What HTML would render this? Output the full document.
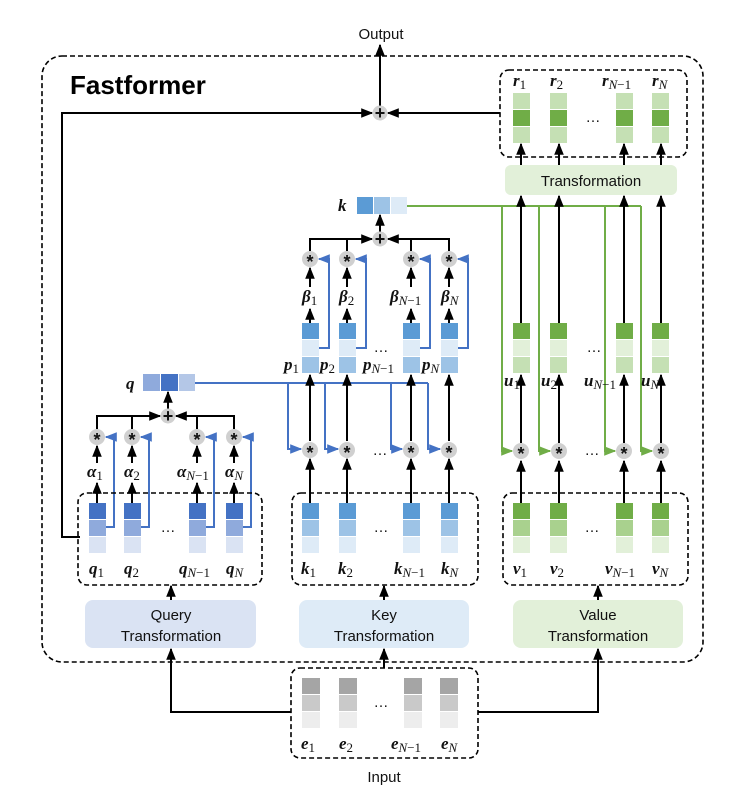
<!DOCTYPE html>
<html><head><meta charset="utf-8">
<style>
html,body{margin:0;padding:0;background:#fff;}
svg{display:block;}
.m{font-family:"Liberation Serif",serif;font-weight:bold;font-style:italic;font-size:17px;fill:#111;}
.s{font-size:13px;font-style:italic;font-weight:normal;}
.sn{font-size:13px;font-style:normal;font-weight:normal;}
.t{font-family:"Liberation Sans",sans-serif;font-size:15px;fill:#111;}
.ast{font-family:"Liberation Sans",sans-serif;font-weight:bold;font-size:18px;fill:#111;}
</style></head><body>
<svg width="746" height="799" viewBox="0 0 746 799" xmlns="http://www.w3.org/2000/svg">
<defs>
<marker id="ab" viewBox="0 0 10 10" refX="9" refY="5" markerWidth="6" markerHeight="6" orient="auto"><path d="M0,1 L10,5 L0,9 z" fill="#000"/></marker>
<marker id="au" viewBox="0 0 10 10" refX="9" refY="5" markerWidth="6" markerHeight="6" orient="auto"><path d="M0,1 L10,5 L0,9 z" fill="#4472C4"/></marker>
<marker id="ag" viewBox="0 0 10 10" refX="9" refY="5" markerWidth="6" markerHeight="6" orient="auto"><path d="M0,1 L10,5 L0,9 z" fill="#70AD47"/></marker>
</defs>

<rect x="42" y="56" width="661" height="606" rx="20" fill="none" stroke="#000" stroke-width="1.6" stroke-dasharray="5,3"/>
<text x="70" y="94" font-family="Liberation Sans,sans-serif" font-weight="bold" font-size="26" fill="#000">Fastformer</text>
<text class="t" x="381" y="39" text-anchor="middle" font-size="16">Output</text>
<text class="t" x="384" y="782" text-anchor="middle" font-size="17">Input</text>

<g stroke="#000" stroke-width="2" fill="none">
<line x1="380" y1="106" x2="380" y2="45" marker-end="url(#ab)"/>
<polyline points="80,537 62,537 62,113 372,113" marker-end="url(#ab)"/>
<line x1="500" y1="113" x2="388" y2="113" marker-end="url(#ab)"/>
</g>
<circle cx="380" cy="113" r="7.5" fill="#d0d0d0"/>
<text x="380" y="119" text-anchor="middle" class="ast" font-size="16">+</text>

<rect x="500" y="70" width="187" height="87" rx="9" fill="none" stroke="#000" stroke-width="1.6" stroke-dasharray="5,3"/>
<g>
<rect x="513" y="93" width="17" height="16" fill="#C5E0B4"/><rect x="513" y="110" width="17" height="16" fill="#70AD47"/><rect x="513" y="127" width="17" height="16" fill="#C5E0B4"/>
<rect x="550" y="93" width="17" height="16" fill="#C5E0B4"/><rect x="550" y="110" width="17" height="16" fill="#70AD47"/><rect x="550" y="127" width="17" height="16" fill="#C5E0B4"/>
<rect x="616" y="93" width="17" height="16" fill="#C5E0B4"/><rect x="616" y="110" width="17" height="16" fill="#70AD47"/><rect x="616" y="127" width="17" height="16" fill="#C5E0B4"/>
<rect x="652" y="93" width="17" height="16" fill="#C5E0B4"/><rect x="652" y="110" width="17" height="16" fill="#70AD47"/><rect x="652" y="127" width="17" height="16" fill="#C5E0B4"/>
</g>
<text class="t" x="593" y="122" text-anchor="middle">…</text>
<text class="m" x="513" y="86">r<tspan class="sn" dy="3">1</tspan></text>
<text class="m" x="550" y="86">r<tspan class="sn" dy="3">2</tspan></text>
<text class="m" x="602" y="86">r<tspan class="s" dy="3">N</tspan><tspan class="sn">−1</tspan></text>
<text class="m" x="652" y="86">r<tspan class="s" dy="3">N</tspan></text>

<rect x="505" y="165" width="172" height="30" rx="6" fill="#E2F0D9"/>
<text class="t" x="591" y="186" text-anchor="middle">Transformation</text>

<text class="m" x="338" y="211">k</text>
<rect x="357" y="197" width="16" height="17" fill="#5B9BD5"/><rect x="374" y="197" width="16" height="17" fill="#9DC3E6"/><rect x="391" y="197" width="16" height="17" fill="#DEEBF7"/>

<g stroke="#70AD47" stroke-width="2" fill="none">
<line x1="407" y1="206" x2="641" y2="206"/>
<polyline points="502,206 502,451 512,451" marker-end="url(#ag)"/>
<polyline points="539,206 539,451 550,451" marker-end="url(#ag)"/>
<polyline points="605,206 605,451 615,451" marker-end="url(#ag)"/>
<polyline points="641,206 641,451 652,451" marker-end="url(#ag)"/>
</g>

<g stroke="#000" stroke-width="2" fill="none">
<line x1="521" y1="503" x2="521" y2="461" marker-end="url(#ab)"/>
<line x1="559" y1="503" x2="559" y2="461" marker-end="url(#ab)"/>
<line x1="624" y1="503" x2="624" y2="461" marker-end="url(#ab)"/>
<line x1="661" y1="503" x2="661" y2="461" marker-end="url(#ab)"/>
<line x1="521" y1="443" x2="521" y2="375" marker-end="url(#ab)"/>
<line x1="559" y1="443" x2="559" y2="375" marker-end="url(#ab)"/>
<line x1="624" y1="443" x2="624" y2="375" marker-end="url(#ab)"/>
<line x1="661" y1="443" x2="661" y2="375" marker-end="url(#ab)"/>
<line x1="521" y1="323" x2="521" y2="196" marker-end="url(#ab)"/>
<line x1="559" y1="323" x2="559" y2="196" marker-end="url(#ab)"/>
<line x1="624" y1="323" x2="624" y2="196" marker-end="url(#ab)"/>
<line x1="661" y1="323" x2="661" y2="196" marker-end="url(#ab)"/>
<line x1="521" y1="165" x2="521" y2="144" marker-end="url(#ab)"/>
<line x1="559" y1="165" x2="559" y2="144" marker-end="url(#ab)"/>
<line x1="624" y1="165" x2="624" y2="144" marker-end="url(#ab)"/>
<line x1="661" y1="165" x2="661" y2="144" marker-end="url(#ab)"/>
</g>
<g fill="#d0d0d0"><circle cx="521" cy="451" r="8"/><circle cx="559" cy="451" r="8"/><circle cx="624" cy="451" r="8"/><circle cx="661" cy="451" r="8"/></g>
<g class="ast" text-anchor="middle"><text x="521" y="460">*</text><text x="559" y="460">*</text><text x="624" y="460">*</text><text x="661" y="460">*</text></g>
<text class="t" x="592" y="455" text-anchor="middle">…</text>

<g>
<rect x="513" y="323" width="17" height="16" fill="#70AD47"/><rect x="513" y="340" width="17" height="16" fill="#E2F0D9"/><rect x="513" y="357" width="17" height="16" fill="#C5E0B4"/>
<rect x="550" y="323" width="17" height="16" fill="#70AD47"/><rect x="550" y="340" width="17" height="16" fill="#E2F0D9"/><rect x="550" y="357" width="17" height="16" fill="#C5E0B4"/>
<rect x="616" y="323" width="17" height="16" fill="#70AD47"/><rect x="616" y="340" width="17" height="16" fill="#E2F0D9"/><rect x="616" y="357" width="17" height="16" fill="#C5E0B4"/>
<rect x="652" y="323" width="17" height="16" fill="#70AD47"/><rect x="652" y="340" width="17" height="16" fill="#E2F0D9"/><rect x="652" y="357" width="17" height="16" fill="#C5E0B4"/>
</g>
<text class="t" x="594" y="352" text-anchor="middle">…</text>
<text class="m" x="504" y="386">u<tspan class="sn" dy="3">1</tspan></text>
<text class="m" x="541" y="386">u<tspan class="sn" dy="3">2</tspan></text>
<text class="m" x="584" y="386">u<tspan class="s" dy="3">N</tspan><tspan class="sn">−1</tspan></text>
<text class="m" x="641" y="386">u<tspan class="s" dy="3">N</tspan></text>

<rect x="503" y="493" width="185" height="92" rx="9" fill="none" stroke="#000" stroke-width="1.6" stroke-dasharray="5,3"/>
<g>
<rect x="513" y="503" width="17" height="16" fill="#70AD47"/><rect x="513" y="520" width="17" height="16" fill="#A9D18E"/><rect x="513" y="537" width="17" height="16" fill="#E2F0D9"/>
<rect x="550" y="503" width="17" height="16" fill="#70AD47"/><rect x="550" y="520" width="17" height="16" fill="#A9D18E"/><rect x="550" y="537" width="17" height="16" fill="#E2F0D9"/>
<rect x="616" y="503" width="17" height="16" fill="#70AD47"/><rect x="616" y="520" width="17" height="16" fill="#A9D18E"/><rect x="616" y="537" width="17" height="16" fill="#E2F0D9"/>
<rect x="652" y="503" width="17" height="16" fill="#70AD47"/><rect x="652" y="520" width="17" height="16" fill="#A9D18E"/><rect x="652" y="537" width="17" height="16" fill="#E2F0D9"/>
</g>
<text class="t" x="592" y="532" text-anchor="middle">…</text>
<text class="m" x="513" y="574">v<tspan class="sn" dy="3">1</tspan></text>
<text class="m" x="550" y="574">v<tspan class="sn" dy="3">2</tspan></text>
<text class="m" x="605" y="574">v<tspan class="s" dy="3">N</tspan><tspan class="sn">−1</tspan></text>
<text class="m" x="652" y="574">v<tspan class="s" dy="3">N</tspan></text>

<g stroke="#4472C4" stroke-width="2" fill="none">
<line x1="195" y1="383" x2="428" y2="383"/>
<polyline points="288,383 288,449 301,449" marker-end="url(#au)"/>
<polyline points="325,383 325,449 338,449" marker-end="url(#au)"/>
<polyline points="391,383 391,449 402,449" marker-end="url(#au)"/>
<polyline points="428,383 428,449 440,449" marker-end="url(#au)"/>
<polyline points="319,348 329,348 329,259 319,259" marker-end="url(#au)"/>
<polyline points="356,348 366,348 366,259 356,259" marker-end="url(#au)"/>
<polyline points="420,348 430,348 430,259 420,259" marker-end="url(#au)"/>
<polyline points="458,348 468,348 468,259 458,259" marker-end="url(#au)"/>
</g>
<g stroke="#000" stroke-width="2" fill="none">
<line x1="310" y1="503" x2="310" y2="459" marker-end="url(#ab)"/>
<line x1="347" y1="503" x2="347" y2="459" marker-end="url(#ab)"/>
<line x1="411" y1="503" x2="411" y2="459" marker-end="url(#ab)"/>
<line x1="449" y1="503" x2="449" y2="459" marker-end="url(#ab)"/>
<line x1="310" y1="441" x2="310" y2="375" marker-end="url(#ab)"/>
<line x1="347" y1="441" x2="347" y2="375" marker-end="url(#ab)"/>
<line x1="411" y1="441" x2="411" y2="375" marker-end="url(#ab)"/>
<line x1="449" y1="441" x2="449" y2="375" marker-end="url(#ab)"/>
<line x1="310" y1="323" x2="310" y2="309" marker-end="url(#ab)"/>
<line x1="347" y1="323" x2="347" y2="309" marker-end="url(#ab)"/>
<line x1="411" y1="323" x2="411" y2="309" marker-end="url(#ab)"/>
<line x1="449" y1="323" x2="449" y2="309" marker-end="url(#ab)"/>
<line x1="310" y1="287" x2="310" y2="268" marker-end="url(#ab)"/>
<line x1="347" y1="287" x2="347" y2="268" marker-end="url(#ab)"/>
<line x1="411" y1="287" x2="411" y2="268" marker-end="url(#ab)"/>
<line x1="449" y1="287" x2="449" y2="268" marker-end="url(#ab)"/>
<polyline points="310,251 310,239 372,239" marker-end="url(#ab)"/>
<line x1="347" y1="251" x2="347" y2="239"/>
<polyline points="449,251 449,239 388,239" marker-end="url(#ab)"/>
<line x1="411" y1="251" x2="411" y2="239"/>
<line x1="380" y1="232" x2="380" y2="215" marker-end="url(#ab)"/>
</g>
<circle cx="380" cy="239" r="7.5" fill="#d0d0d0"/><text x="380" y="245" text-anchor="middle" class="ast" font-size="16">+</text>
<g fill="#d0d0d0"><circle cx="310" cy="259" r="8"/><circle cx="347" cy="259" r="8"/><circle cx="411" cy="259" r="8"/><circle cx="449" cy="259" r="8"/>
<circle cx="310" cy="450" r="8"/><circle cx="347" cy="450" r="8"/><circle cx="411" cy="450" r="8"/><circle cx="449" cy="450" r="8"/></g>
<g class="ast" text-anchor="middle"><text x="310" y="268">*</text><text x="347" y="268">*</text><text x="411" y="268">*</text><text x="449" y="268">*</text>
<text x="310" y="459">*</text><text x="347" y="459">*</text><text x="411" y="459">*</text><text x="449" y="459">*</text></g>
<text class="t" x="380" y="455" text-anchor="middle">…</text>
<text class="m" x="302" y="302">β<tspan class="sn" dy="3">1</tspan></text>
<text class="m" x="339" y="302">β<tspan class="sn" dy="3">2</tspan></text>
<text class="m" x="390" y="302">β<tspan class="s" dy="3">N</tspan><tspan class="sn">−1</tspan></text>
<text class="m" x="441" y="302">β<tspan class="s" dy="3">N</tspan></text>
<g>
<rect x="302" y="323" width="17" height="16" fill="#5B9BD5"/><rect x="302" y="340" width="17" height="16" fill="#DEEBF7"/><rect x="302" y="357" width="17" height="16" fill="#9DC3E6"/>
<rect x="339" y="323" width="17" height="16" fill="#5B9BD5"/><rect x="339" y="340" width="17" height="16" fill="#DEEBF7"/><rect x="339" y="357" width="17" height="16" fill="#9DC3E6"/>
<rect x="403" y="323" width="17" height="16" fill="#5B9BD5"/><rect x="403" y="340" width="17" height="16" fill="#DEEBF7"/><rect x="403" y="357" width="17" height="16" fill="#9DC3E6"/>
<rect x="441" y="323" width="17" height="16" fill="#5B9BD5"/><rect x="441" y="340" width="17" height="16" fill="#DEEBF7"/><rect x="441" y="357" width="17" height="16" fill="#9DC3E6"/>
</g>
<text class="t" x="381" y="352" text-anchor="middle">…</text>
<text class="m" x="284" y="370">p<tspan class="sn" dy="3">1</tspan></text>
<text class="m" x="320" y="370">p<tspan class="sn" dy="3">2</tspan></text>
<text class="m" x="363" y="370">p<tspan class="s" dy="3">N</tspan><tspan class="sn">−1</tspan></text>
<text class="m" x="422" y="370">p<tspan class="s" dy="3">N</tspan></text>

<rect x="292" y="493" width="186" height="92" rx="9" fill="none" stroke="#000" stroke-width="1.6" stroke-dasharray="5,3"/>
<g>
<rect x="302" y="503" width="17" height="16" fill="#5B9BD5"/><rect x="302" y="520" width="17" height="16" fill="#9DC3E6"/><rect x="302" y="537" width="17" height="16" fill="#DEEBF7"/>
<rect x="339" y="503" width="17" height="16" fill="#5B9BD5"/><rect x="339" y="520" width="17" height="16" fill="#9DC3E6"/><rect x="339" y="537" width="17" height="16" fill="#DEEBF7"/>
<rect x="403" y="503" width="17" height="16" fill="#5B9BD5"/><rect x="403" y="520" width="17" height="16" fill="#9DC3E6"/><rect x="403" y="537" width="17" height="16" fill="#DEEBF7"/>
<rect x="441" y="503" width="17" height="16" fill="#5B9BD5"/><rect x="441" y="520" width="17" height="16" fill="#9DC3E6"/><rect x="441" y="537" width="17" height="16" fill="#DEEBF7"/>
</g>
<text class="t" x="381" y="532" text-anchor="middle">…</text>
<text class="m" x="301" y="574">k<tspan class="sn" dy="3">1</tspan></text>
<text class="m" x="338" y="574">k<tspan class="sn" dy="3">2</tspan></text>
<text class="m" x="394" y="574">k<tspan class="s" dy="3">N</tspan><tspan class="sn">−1</tspan></text>
<text class="m" x="441" y="574">k<tspan class="s" dy="3">N</tspan></text>

<text class="m" x="126" y="389">q</text>
<rect x="143" y="374" width="17" height="17" fill="#8FAADC"/><rect x="161" y="374" width="17" height="17" fill="#4472C4"/><rect x="179" y="374" width="16" height="17" fill="#B4C7E7"/>
<g stroke="#4472C4" stroke-width="2" fill="none">
<polyline points="106,527 114,527 114,437 106,437" marker-end="url(#au)"/>
<polyline points="141,527 149,527 149,437 141,437" marker-end="url(#au)"/>
<polyline points="206,527 214,527 214,437 206,437" marker-end="url(#au)"/>
<polyline points="243,527 251,527 251,437 243,437" marker-end="url(#au)"/>
</g>
<g stroke="#000" stroke-width="2" fill="none">
<line x1="97" y1="503" x2="97" y2="483" marker-end="url(#ab)"/>
<line x1="132" y1="503" x2="132" y2="483" marker-end="url(#ab)"/>
<line x1="197" y1="503" x2="197" y2="483" marker-end="url(#ab)"/>
<line x1="234" y1="503" x2="234" y2="483" marker-end="url(#ab)"/>
<line x1="97" y1="463" x2="97" y2="446" marker-end="url(#ab)"/>
<line x1="132" y1="463" x2="132" y2="446" marker-end="url(#ab)"/>
<line x1="197" y1="463" x2="197" y2="446" marker-end="url(#ab)"/>
<line x1="234" y1="463" x2="234" y2="446" marker-end="url(#ab)"/>
<polyline points="97,429 97,416 160,416" marker-end="url(#ab)"/>
<line x1="132" y1="429" x2="132" y2="416"/>
<polyline points="234,429 234,416 176,416" marker-end="url(#ab)"/>
<line x1="197" y1="429" x2="197" y2="416"/>
<line x1="168" y1="409" x2="168" y2="392" marker-end="url(#ab)"/>
</g>
<circle cx="168" cy="416" r="7.5" fill="#d0d0d0"/><text x="168" y="422" text-anchor="middle" class="ast" font-size="16">+</text>
<g fill="#d0d0d0"><circle cx="97" cy="437" r="8"/><circle cx="132" cy="437" r="8"/><circle cx="197" cy="437" r="8"/><circle cx="234" cy="437" r="8"/></g>
<g class="ast" text-anchor="middle"><text x="97" y="446">*</text><text x="132" y="446">*</text><text x="197" y="446">*</text><text x="234" y="446">*</text></g>
<text class="m" x="87" y="477">α<tspan class="sn" dy="3">1</tspan></text>
<text class="m" x="124" y="477">α<tspan class="sn" dy="3">2</tspan></text>
<text class="m" x="177" y="477">α<tspan class="s" dy="3">N</tspan><tspan class="sn">−1</tspan></text>
<text class="m" x="225" y="477">α<tspan class="s" dy="3">N</tspan></text>

<rect x="78" y="493" width="184" height="92" rx="9" fill="none" stroke="#000" stroke-width="1.6" stroke-dasharray="5,3"/>
<g>
<rect x="89" y="503" width="17" height="16" fill="#4472C4"/><rect x="89" y="520" width="17" height="16" fill="#8FAADC"/><rect x="89" y="537" width="17" height="16" fill="#DAE3F3"/>
<rect x="124" y="503" width="17" height="16" fill="#4472C4"/><rect x="124" y="520" width="17" height="16" fill="#8FAADC"/><rect x="124" y="537" width="17" height="16" fill="#DAE3F3"/>
<rect x="189" y="503" width="17" height="16" fill="#4472C4"/><rect x="189" y="520" width="17" height="16" fill="#8FAADC"/><rect x="189" y="537" width="17" height="16" fill="#DAE3F3"/>
<rect x="226" y="503" width="17" height="16" fill="#4472C4"/><rect x="226" y="520" width="17" height="16" fill="#8FAADC"/><rect x="226" y="537" width="17" height="16" fill="#DAE3F3"/>
</g>
<text class="t" x="168" y="532" text-anchor="middle">…</text>
<text class="m" x="89" y="574">q<tspan class="sn" dy="3">1</tspan></text>
<text class="m" x="124" y="574">q<tspan class="sn" dy="3">2</tspan></text>
<text class="m" x="179" y="574">q<tspan class="s" dy="3">N</tspan><tspan class="sn">−1</tspan></text>
<text class="m" x="226" y="574">q<tspan class="s" dy="3">N</tspan></text>

<rect x="85" y="600" width="171" height="48" rx="8" fill="#DAE3F3"/>
<text class="t" x="171" y="620" text-anchor="middle">Query</text>
<text class="t" x="171" y="641" text-anchor="middle">Transformation</text>
<rect x="299" y="600" width="170" height="48" rx="8" fill="#DEEBF7"/>
<text class="t" x="384" y="620" text-anchor="middle">Key</text>
<text class="t" x="384" y="641" text-anchor="middle">Transformation</text>
<rect x="513" y="600" width="170" height="48" rx="8" fill="#E2F0D9"/>
<text class="t" x="598" y="620" text-anchor="middle">Value</text>
<text class="t" x="598" y="641" text-anchor="middle">Transformation</text>

<g stroke="#000" stroke-width="2" fill="none">
<line x1="171" y1="600" x2="171" y2="586" marker-end="url(#ab)"/>
<line x1="384" y1="600" x2="384" y2="586" marker-end="url(#ab)"/>
<line x1="598" y1="600" x2="598" y2="586" marker-end="url(#ab)"/>
<polyline points="291,712 171,712 171,649" marker-end="url(#ab)"/>
<polyline points="478,712 598,712 598,649" marker-end="url(#ab)"/>
<line x1="384" y1="668" x2="384" y2="649" marker-end="url(#ab)"/>
</g>

<rect x="291" y="668" width="187" height="90" rx="9" fill="none" stroke="#000" stroke-width="1.6" stroke-dasharray="5,3"/>
<g>
<rect x="302" y="678" width="18" height="16" fill="#A5A5A5"/><rect x="302" y="695" width="18" height="16" fill="#C9C9C9"/><rect x="302" y="712" width="18" height="16" fill="#EDEDED"/>
<rect x="339" y="678" width="18" height="16" fill="#A5A5A5"/><rect x="339" y="695" width="18" height="16" fill="#C9C9C9"/><rect x="339" y="712" width="18" height="16" fill="#EDEDED"/>
<rect x="404" y="678" width="18" height="16" fill="#A5A5A5"/><rect x="404" y="695" width="18" height="16" fill="#C9C9C9"/><rect x="404" y="712" width="18" height="16" fill="#EDEDED"/>
<rect x="440" y="678" width="18" height="16" fill="#A5A5A5"/><rect x="440" y="695" width="18" height="16" fill="#C9C9C9"/><rect x="440" y="712" width="18" height="16" fill="#EDEDED"/>
</g>
<text class="t" x="381" y="707" text-anchor="middle">…</text>
<text class="m" x="301" y="749">e<tspan class="sn" dy="3">1</tspan></text>
<text class="m" x="339" y="749">e<tspan class="sn" dy="3">2</tspan></text>
<text class="m" x="391" y="749">e<tspan class="s" dy="3">N</tspan><tspan class="sn">−1</tspan></text>
<text class="m" x="441" y="749">e<tspan class="s" dy="3">N</tspan></text>
</svg>
</body></html>
